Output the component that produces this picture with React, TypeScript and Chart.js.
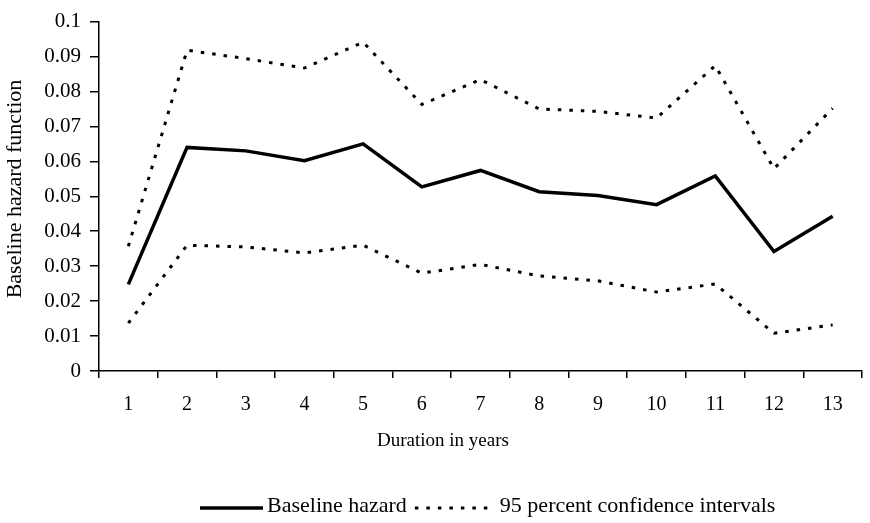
import React, { useEffect, useRef } from 'react';
import { Chart, registerables } from 'chart.js';

Chart.register(...registerables);

const FONT = "'Liberation Serif', 'Times New Roman', serif";

const durations = ['1', '2', '3', '4', '5', '6', '7', '8', '9', '10', '11', '12', '13'];
const baselineHazard = [0.0248, 0.064, 0.063, 0.0602, 0.065, 0.0527, 0.0574, 0.0513, 0.0502, 0.0476, 0.0558, 0.0342, 0.0443];
const upperCI = [0.0357, 0.0918, 0.0894, 0.0867, 0.0941, 0.0763, 0.0834, 0.075, 0.0743, 0.0724, 0.0874, 0.0579, 0.0752];
const lowerCI = [0.0137, 0.036, 0.0355, 0.0338, 0.036, 0.028, 0.0305, 0.0272, 0.0258, 0.0226, 0.0249, 0.0108, 0.0132];
const yTickLabels = ['0', '0.01', '0.02', '0.03', '0.04', '0.05', '0.06', '0.07', '0.08', '0.09', '0.1'];
const xTitle = 'Duration in years';
const yTitle = 'Baseline hazard function';

const annotationPlugin = {
  id: 'titlesAndLegend',
  afterDraw(chart: any) {
    const ctx = chart.ctx;
    ctx.save();
    ctx.fillStyle = '#000';
    ctx.textBaseline = 'middle';

    // axis titles
    ctx.textAlign = 'center';
    ctx.font = `19px ${FONT}`;
    ctx.fillText(xTitle, 443, 441);
    ctx.save();
    ctx.translate(15, 189);
    ctx.rotate(-Math.PI / 2);
    ctx.font = `22px ${FONT}`;
    ctx.fillText(yTitle, 0, 0);
    ctx.restore();

    // legend
    ctx.font = `22px ${FONT}`;
    ctx.textAlign = 'left';
    const y = 506;
    let x = 200;
    const items = [
      { ds: chart.data.datasets[0], w: 63, gap: 4, after: 8 },
      { ds: chart.data.datasets[1], w: 76, gap: 9, after: 0 },
    ];
    items.forEach((it) => {
      ctx.beginPath();
      ctx.lineWidth = it.ds.borderWidth;
      ctx.strokeStyle = it.ds.borderColor;
      ctx.setLineDash(it.ds.borderDash || []);
      ctx.moveTo(x, y + 2);
      ctx.lineTo(x + it.w, y + 2);
      ctx.stroke();
      ctx.setLineDash([]);
      x += it.w + it.gap;
      ctx.fillText(it.ds.label, x, y);
      x += ctx.measureText(it.ds.label).width + it.after;
    });
    ctx.restore();
  },
};

export default function App() {
  const canvasRef = useRef<HTMLCanvasElement | null>(null);

  useEffect(() => {
    const canvas = canvasRef.current;
    if (!canvas) return;
    const dotted = [3.5, 8];
    const chart = new Chart(canvas, {
      type: 'line',
      data: {
        labels: durations,
        datasets: [
          {
            label: 'Baseline hazard',
            data: baselineHazard,
            borderColor: '#000',
            borderWidth: 3.5,
            pointRadius: 0,
            tension: 0,
            fill: false,
          },
          {
            label: '95 percent confidence intervals',
            data: upperCI,
            borderColor: '#000',
            borderWidth: 3,
            borderDash: dotted,
            pointRadius: 0,
            tension: 0,
            fill: false,
          },
          {
            label: '95 percent confidence intervals (lower)',
            data: lowerCI,
            borderColor: '#000',
            borderWidth: 3,
            borderDash: dotted,
            pointRadius: 0,
            tension: 0,
            fill: false,
          },
        ],
      },
      options: {
        animation: false,
        responsive: true,
        maintainAspectRatio: false,
        layout: { padding: { left: 0, right: 8, top: 15, bottom: 62 } },
        plugins: {
          legend: { display: false },
          tooltip: { enabled: false },
        },
        scales: {
          x: {
            type: 'category',
            offset: true,
            grid: {
              offset: true,
              drawOnChartArea: false,
              drawTicks: true,
              tickLength: 7,
              color: '#000',
              lineWidth: 1.5,
            },
            border: { display: true, color: '#000', width: 1.5 },
            ticks: {
              color: '#000',
              font: { family: FONT, size: 20 },
              padding: 15,
              maxRotation: 0,
              autoSkip: false,
            },
            afterFit: (s: any) => {
              s.height = 90;
            },
          },
          y: {
            min: 0,
            max: 0.1,
            grid: {
              drawOnChartArea: false,
              drawTicks: true,
              tickLength: 9,
              color: '#000',
              lineWidth: 1.5,
            },
            border: { display: true, color: '#000', width: 1.5 },
            ticks: {
              stepSize: 0.01,
              color: '#000',
              font: { family: FONT, size: 21 },
              padding: 9,
              callback: (v: any) => yTickLabels[Math.round(Number(v) * 100)],
            },
            afterFit: (s: any) => {
              s.width = 99;
            },
          },
        },
      },
      plugins: [annotationPlugin],
    });
    return () => chart.destroy();
  }, []);

  return (
    <div style={{ position: 'absolute', left: 0, top: 0, width: 870, height: 523, background: '#fff' }}>
      <canvas ref={canvasRef} />
    </div>
  );
}
